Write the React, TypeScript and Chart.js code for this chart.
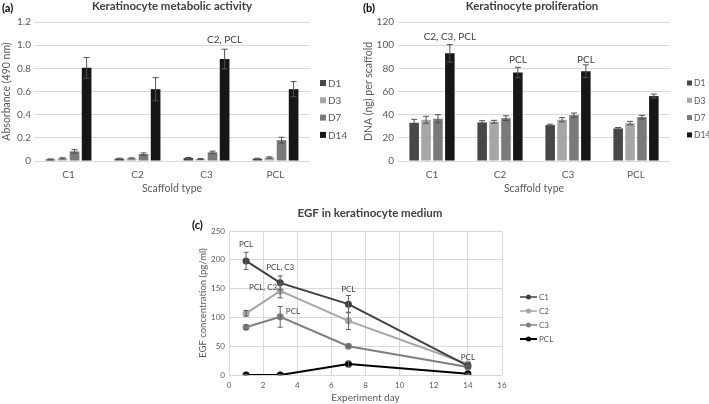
import React, { useEffect, useRef } from "react";
import { Chart, registerables } from "chart.js";
Chart.register(...registerables);

// ---------- data ----------
const scaffolds = ["C1", "C2", "C3", "PCL"];
const dayLabels = ["D1", "D3", "D7", "D14"];

// (a) metabolic activity, absorbance 490 nm
const metD1 = [0.014, 0.02, 0.026, 0.02];
const metD3 = [0.023, 0.023, 0.017, 0.03];
const metD7 = [0.083, 0.06, 0.075, 0.18];
const metD14 = [0.804, 0.62, 0.88, 0.62];
const metErrD1 = [0.004, 0.004, 0.004, 0.004];
const metErrD3 = [0.005, 0.004, 0.004, 0.006];
const metErrD7 = [0.015, 0.01, 0.01, 0.025];
const metErrD14 = [0.09, 0.1, 0.085, 0.065];

// (b) proliferation, DNA ng per scaffold
const dnaD1 = [33, 33.3, 31, 28.1];
const dnaD3 = [35.6, 33.9, 35.6, 32.7];
const dnaD7 = [36.5, 37, 39.6, 37.9];
const dnaD14 = [93, 76.4, 77.5, 56];
const dnaErrD1 = [3, 1.5, 0.8, 0.8];
const dnaErrD3 = [3, 1.2, 1.8, 1.5];
const dnaErrD7 = [3.5, 2, 1.8, 1.5];
const dnaErrD14 = [7.5, 4.5, 5.5, 1.7];

// (c) EGF in keratinocyte medium
const egfDays = [1, 3, 7, 14];
const egfC1 = [198, 160, 123, 16];
const egfC2 = [107, 146, 94, 19];
const egfC3 = [83, 101, 50, 14];
const egfPCL = [0, 0, 19, 2];
const egfErrC1 = [15, 12, 15, 1];
const egfErrC2 = [5, 12, 15, 3];
const egfErrC3 = [4, 18, 2, 2];
const egfErrPCL = [0.5, 0.5, 5, 1];
const egfSeriesNames = ["C1", "C2", "C3", "PCL"];

const barColors = ["#474747", "#a6a6a6", "#7a7a7a", "#161616"];
const lineColors = ["#404040", "#a6a6a6", "#7f7f7f", "#000000"];

// ---------- style ----------
const FONT = "Lato, 'Open Sans', sans-serif";
const TXT = "#595959";
const GRID = "#d9d9d9";

// ---------- plugins ----------
function makeErrorBars(cap: number, color: string) {
  return {
    id: "errorBars",
    afterDatasetsDraw(chart: any) {
      const ctx = chart.ctx;
      const ys = chart.scales.y;
      chart.data.datasets.forEach((ds: any, i: number) => {
        const errs = ds.errors;
        if (!errs) return;
        const meta = chart.getDatasetMeta(i);
        meta.data.forEach((el: any, j: number) => {
          const e = errs[j];
          if (!e) return;
          const raw = ds.data[j];
          const v = typeof raw === "number" ? raw : raw.y;
          const yT = ys.getPixelForValue(v + e);
          const yB = ys.getPixelForValue(Math.max(v - e, ys.min));
          const x = el.x;
          ctx.save();
          ctx.strokeStyle = color;
          ctx.lineWidth = 1;
          ctx.beginPath();
          ctx.moveTo(x, yT);
          ctx.lineTo(x, yB);
          ctx.moveTo(x - cap, yT);
          ctx.lineTo(x + cap, yT);
          ctx.moveTo(x - cap, yB);
          ctx.lineTo(x + cap, yB);
          ctx.stroke();
          ctx.restore();
        });
      });
    },
  };
}

type Note = { ds?: number; idx?: number; x?: number; y: number; text: string };
function makeNotes(items: Note[], font: string, color: string) {
  return {
    id: "notes",
    afterDraw(chart: any) {
      const ctx = chart.ctx;
      ctx.save();
      ctx.font = font;
      ctx.fillStyle = color;
      ctx.textAlign = "center";
      ctx.textBaseline = "middle";
      items.forEach((n) => {
        const x =
          n.ds !== undefined
            ? chart.getDatasetMeta(n.ds).data[n.idx as number].x
            : chart.scales.x.getPixelForValue(n.x);
        const y = chart.scales.y.getPixelForValue(n.y);
        ctx.fillText(n.text, x, y);
      });
      ctx.restore();
    },
  };
}

type TextItem = { text: string; x: number; y: number; font: string; color: string; align?: string };
function makeTexts(items: TextItem[]) {
  return {
    id: "texts",
    afterDraw(chart: any) {
      const ctx = chart.ctx;
      items.forEach((t) => {
        ctx.save();
        ctx.font = t.font;
        ctx.fillStyle = t.color;
        ctx.textAlign = t.align || "center";
        ctx.textBaseline = "middle";
        ctx.fillText(t.text, t.x, t.y);
        ctx.restore();
      });
    },
  };
}

function makeLegend(o: { x: number; y: number; gap: number; kind: "box" | "line"; font: string; color: string; box?: number }) {
  return {
    id: "sideLegend",
    afterDraw(chart: any) {
      const ctx = chart.ctx;
      ctx.save();
      ctx.font = o.font;
      ctx.textBaseline = "middle";
      ctx.textAlign = "left";
      chart.data.datasets.forEach((ds: any, i: number) => {
        const y = o.y + i * o.gap;
        const col = ds.borderColor && o.kind === "line" ? ds.borderColor : ds.backgroundColor;
        if (o.kind === "box") {
          const b = o.box || 6;
          ctx.fillStyle = col;
          ctx.fillRect(o.x, y - b / 2, b, b);
          ctx.fillStyle = o.color;
          ctx.fillText(ds.label, o.x + b + 2, y + 0.5);
        } else {
          ctx.strokeStyle = col;
          ctx.lineWidth = i === 3 ? 2 : 1.5;
          ctx.beginPath();
          ctx.moveTo(o.x, y);
          ctx.lineTo(o.x + 17, y);
          ctx.stroke();
          ctx.fillStyle = col;
          ctx.beginPath();
          ctx.arc(o.x + 8.5, y, 2.5, 0, Math.PI * 2);
          ctx.fill();
          ctx.fillStyle = o.color;
          ctx.fillText(ds.label, o.x + 19, y + 0.5);
        }
      });
      ctx.restore();
    },
  };
}

// ---------- configs ----------
function barConfig(p: {
  series: number[][];
  errs: number[][];
  max: number;
  step: number;
  yTitle: string;
  plotLeft: number;
  padLeft: number;
  padRight: number;
  yTitlePad: number;
  tickPad: number;
  notes: Note[];
  title: string;
  titleX: number;
  letter: string;
  letterX: number;
  legendX: number;
  legendFont: number;
  legendBox: number;
}) {
  return {
    type: "bar",
    data: {
      labels: scaffolds,
      datasets: p.series.map((s, i) => ({
        label: dayLabels[i],
        data: s,
        errors: p.errs[i],
        backgroundColor: barColors[i],
        borderWidth: 0,
        categoryPercentage: 0.7,
        barPercentage: 0.8,
      })),
    },
    options: {
      animation: false,
      responsive: false,
      events: [],
      layout: { padding: { left: p.padLeft, right: p.padRight, top: 22, bottom: 5 } },
      plugins: { legend: { display: false }, tooltip: { enabled: false }, title: { display: false } },
      scales: {
        x: {
          grid: { display: false, drawTicks: false },
          border: { display: false },
          ticks: { font: { family: FONT, size: 10 }, color: TXT, padding: 8 },
          title: { display: true, text: "Scaffold type", font: { family: FONT, size: 10.5 }, color: TXT, padding: 0 },
          afterFit: (s: any) => {
            s.height = 200 - 161 - 5;
          },
        },
        y: {
          min: 0,
          max: p.max,
          ticks: { stepSize: p.step, font: { family: FONT, size: 10 }, color: TXT, padding: p.tickPad },
          grid: { color: GRID, drawTicks: false },
          border: { display: false },
          title: { display: true, text: p.yTitle, font: { family: FONT, size: 10.5 }, color: TXT, padding: { top: p.yTitlePad, bottom: 0 } },
          afterFit: (s: any) => {
            s.width = p.plotLeft - p.padLeft;
          },
        },
      },
    },
    plugins: [
      makeErrorBars(3, "#505050"),
      makeNotes(p.notes, `10px ${FONT}`, "#404040"),
      makeTexts([
        { text: p.title, x: p.titleX, y: 6, font: `bold 11.5px ${FONT}`, color: "#404040" },
        { text: p.letter, x: p.letterX, y: 8, font: `bold 11px ${FONT}`, color: "#000", align: "left" },
      ]),
      makeLegend({ x: p.legendX, y: 83, gap: 17.3, kind: "box", font: `${p.legendFont}px ${FONT}`, color: TXT, box: p.legendBox }),
    ],
  };
}

function configA() {
  return barConfig({
    series: [metD1, metD3, metD7, metD14],
    errs: [metErrD1, metErrD3, metErrD7, metErrD14],
    max: 1.2,
    step: 0.2,
    yTitle: "Absorbance (490 nm)",
    plotLeft: 34,
    padLeft: 0,
    padRight: 355 - 310,
    yTitlePad: 0,
    tickPad: 3,
    notes: [{ ds: 3, idx: 2, y: 1.05, text: "C2, PCL" }],
    title: "Keratinocyte metabolic activity",
    titleX: 172,
    letter: "(a)",
    letterX: 2,
    legendX: 320,
    legendFont: 10,
    legendBox: 6,
  });
}

function configB() {
  return barConfig({
    series: [dnaD1, dnaD3, dnaD7, dnaD14],
    errs: [dnaErrD1, dnaErrD3, dnaErrD7, dnaErrD14],
    max: 120,
    step: 20,
    yTitle: "DNA (ng) per scaffold",
    plotLeft: 43,
    padLeft: 0,
    padRight: 354 - 315,
    yTitlePad: 7,
    tickPad: 4,
    notes: [
      { ds: 3, idx: 0, y: 107, text: "C2, C3, PCL" },
      { ds: 3, idx: 1, y: 87, text: "PCL" },
      { ds: 3, idx: 2, y: 87, text: "PCL" },
    ],
    title: "Keratinocyte proliferation",
    titleX: 177,
    letter: "(b)",
    letterX: 8,
    legendX: 332,
    legendFont: 8.5,
    legendBox: 5,
  });
}

function configC() {
  const series = [egfC1, egfC2, egfC3, egfPCL];
  const errs = [egfErrC1, egfErrC2, egfErrC3, egfErrPCL];
  return {
    type: "line",
    data: {
      datasets: series.map((s, i) => ({
        label: egfSeriesNames[i],
        data: egfDays.map((d, j) => ({ x: d, y: s[j] })),
        errors: errs[i],
        borderColor: lineColors[i],
        backgroundColor: lineColors[i],
        borderWidth: 2,
        pointRadius: 3.5,
        pointBorderWidth: 0,
        tension: 0,
      })),
    },
    options: {
      animation: false,
      responsive: false,
      events: [],
      layout: { padding: { left: 47, right: 410 - 352, top: 33, bottom: 0 } },
      plugins: { legend: { display: false }, tooltip: { enabled: false }, title: { display: false } },
      scales: {
        x: {
          type: "linear",
          min: 0,
          max: 16,
          ticks: { stepSize: 2, font: { family: FONT, size: 8 }, color: TXT, padding: 6 },
          grid: { color: GRID, drawTicks: false },
          border: { display: false },
          title: { display: true, text: "Experiment day", font: { family: FONT, size: 10 }, color: TXT, padding: 0 },
          afterFit: (s: any) => {
            s.height = 206 - 177;
          },
        },
        y: {
          min: 0,
          max: 250,
          ticks: { stepSize: 50, font: { family: FONT, size: 8 }, color: TXT, padding: 4 },
          grid: { color: GRID, drawTicks: false },
          border: { display: false },
          title: { display: true, text: "EGF concentration (pg/ml)", font: { family: FONT, size: 9.5 }, color: TXT, padding: 0 },
          afterFit: (s: any) => {
            s.width = 79 - 47;
          },
        },
      },
    },
    plugins: [
      makeErrorBars(2.5, "#606060"),
      makeNotes(
        [
          { x: 1, y: 226, text: "PCL" },
          { x: 3, y: 186, text: "PCL, C3" },
          { x: 2, y: 152, text: "PCL, C3" },
          { x: 3.75, y: 111, text: "PCL" },
          { x: 7, y: 148, text: "PCL" },
          { x: 14, y: 31, text: "PCL" },
        ],
        `8px ${FONT}`,
        "#404040"
      ),
      makeTexts([
        { text: "EGF in keratinocyte medium", x: 220, y: 15, font: `bold 11.5px ${FONT}`, color: "#404040" },
        { text: "(c)", x: 42, y: 27, font: `bold 11px ${FONT}`, color: "#000", align: "left" },
      ]),
      makeLegend({ x: 370, y: 99, gap: 14, kind: "line", font: `8px ${FONT}`, color: TXT }),
    ],
  };
}

function ChartBox(props: { make: () => any; left: number; top: number; width: number; height: number }) {
  const ref = useRef<HTMLCanvasElement | null>(null);
  useEffect(() => {
    if (!ref.current) return;
    const chart = new Chart(ref.current, props.make());
    return () => chart.destroy();
  }, []);
  return (
    <div style={{ position: "absolute", left: props.left, top: props.top, width: props.width, height: props.height }}>
      <canvas ref={ref} width={props.width} height={props.height} style={{ width: props.width, height: props.height }} />
    </div>
  );
}

export default function App() {
  return (
    <div style={{ position: "absolute", left: 0, top: 0, width: 709, height: 404, background: "#fff", overflow: "hidden" }}>
      <ChartBox make={configA} left={0} top={0} width={355} height={200} />
      <ChartBox make={configB} left={355} top={0} width={354} height={200} />
      <ChartBox make={configC} left={150} top={198} width={410} height={206} />
    </div>
  );
}
